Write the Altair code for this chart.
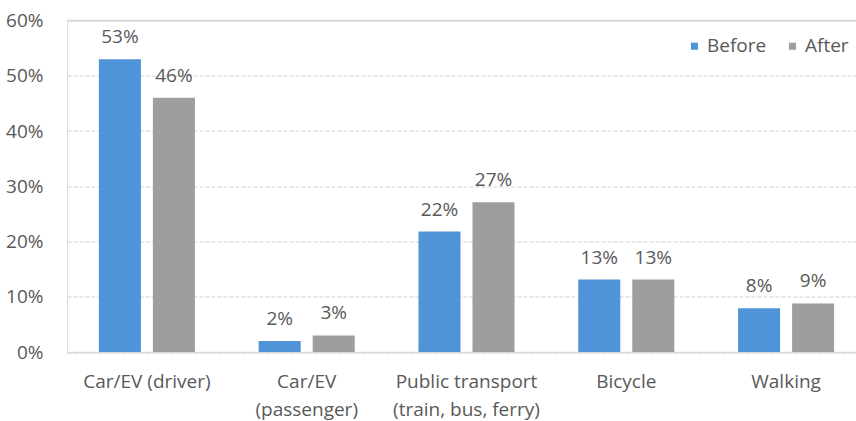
import altair as alt
import pandas as pd

categories = ["Car/EV (driver)", "Car/EV|(passenger)", "Public transport|(train, bus, ferry)", "Bicycle", "Walking"]
series = ["Before", "After"]
before = [0.53, 0.02, 0.218, 0.131, 0.079]
after = [0.46, 0.03, 0.271, 0.131, 0.088]
y_ticks = [0, 0.1, 0.2, 0.3, 0.4, 0.5, 0.6]
y_top = 0.6

rows = []
for c, b, a in zip(categories, before, after):
    rows.append({"cat": c, "series": "Before", "value": b})
    rows.append({"cat": c, "series": "After", "value": a})
df = pd.DataFrame(rows)

FONT = "Open Sans"
TXT = "#595959"
FS = 19

x = alt.X("cat:N", sort=categories, title=None,
          scale=alt.Scale(range=[0, 799], paddingInner=0, paddingOuter=0),
          axis=alt.Axis(labelExpr="split(datum.label, '|')", labelAngle=0, ticks=False,
                        domain=True, domainColor="#D9D9D9", domainWidth=1.5,
                        labelPadding=20, labelFontSize=FS, labelColor=TXT, labelFont=FONT,
                        labelLineHeight=28, labelBaseline="top"))
xo = alt.XOffset("series:N", sort=series,
                 scale=alt.Scale(paddingInner=0.222, paddingOuter=0.59))
y = alt.Y("value:Q", title=None,
          scale=alt.Scale(domain=[0, y_top], nice=False),
          axis=alt.Axis(values=y_ticks, format=".0%", ticks=False, domain=False,
                        grid=True, gridColor="#D0D0D0", gridDash=[4, 2], gridWidth=1.2,
                        labelPadding=24, labelFontSize=FS, labelColor=TXT, labelFont=FONT))

base = alt.Chart(df)

top_rule = alt.Chart(pd.DataFrame({"v": [y_top]})).mark_rule(color="#D9D9D9", strokeWidth=1.5).encode(
    y=alt.Y("v:Q", scale=alt.Scale(domain=[0, y_top], nice=False))
)

bars = base.mark_bar().encode(
    x=x, xOffset=xo, y=y,
    color=alt.Color("series:N", sort=series,
                    scale=alt.Scale(domain=series, range=["#4F93D8", "#9E9E9E"]),
                    legend=alt.Legend(title=None, orient="none", direction="horizontal",
                                      legendX=618, legendY=16, symbolType="square",
                                      symbolSize=50, symbolStrokeWidth=0,
                                      labelFontSize=FS, labelColor=TXT, labelFont=FONT,
                                      labelOffset=3, columnPadding=16)),
)

labels = base.mark_text(baseline="alphabetic", dy=-16, fontSize=FS, color=TXT, font=FONT).encode(
    x=x, xOffset=xo, y=y,
    text=alt.Text("value:Q", format=".0%"),
)

chart = (top_rule + bars + labels).properties(
    width=789, height=331.5,
    autosize=alt.AutoSizeParams(type="none"),
    padding={"left": 67, "top": 20.5, "right": 0, "bottom": 69},
).configure_view(stroke=None).configure(background="white")

chart.save("out.html", embed_options={"renderer": "svg", "actions": False})
